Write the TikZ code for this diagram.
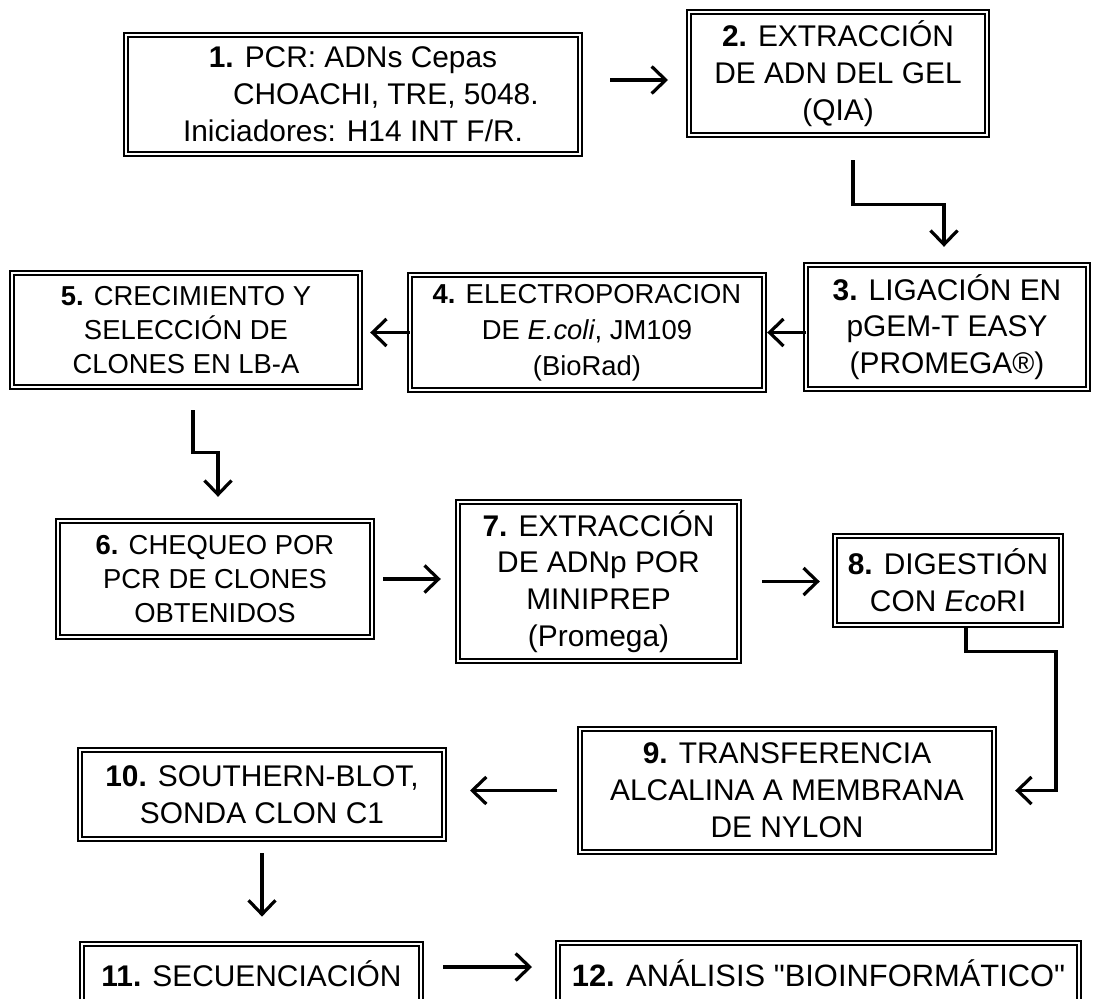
\documentclass[tikz,border=0pt]{standalone}
\usepackage{fontspec}
\setmainfont{Liberation Sans}
\usetikzlibrary{arrows.meta,calc}
\definecolor{ink}{HTML}{000000}
\newcommand{\boxfont}{\fontsize{30}{37}\selectfont}
\newcommand{\smallboxfont}{\fontsize{27.5}{36}\selectfont}
\newcommand{\tightboxfont}{\fontsize{27.5}{34}\selectfont}
\tikzset{
  every node/.style={font=\boxfont,text=ink,inner sep=0pt,outer sep=0pt},
  stepbox/.style={draw=ink,line width=1.7bp,double=white,double distance=2.4bp,align=center},
  flow/.style={draw=ink,line width=3.2bp,-{Straight Barb[length=14bp,width=27bp]}}
}

\begin{document}
\begin{tikzpicture}[x=1bp,y=-1bp]

\path[use as bounding box] (0,0) rectangle (1094,999);
\clip (0,0) rectangle (1094,999);
% Twelve steps, boxes read as a snake from top left.
\node[stepbox,minimum width=454.4bp,minimum height=119.4bp] (b1) at (353,94.5)
  {\textbf{1.} PCR: ADNs Cepas\\\hspace*{2.2em}CHOACHI, TRE, 5048.\\Iniciadores: H14 INT F/R.};
\node[stepbox,minimum width=298.4bp,minimum height=123.4bp] (b2) at (838,73.5)
  {\textbf{2.} EXTRACCIÓN\\DE ADN DEL GEL\\(QIA)};
\node[stepbox,minimum width=282.4bp,minimum height=124.4bp] (b3) at (947,327)
  {\textbf{3.} LIGACIÓN EN\\pGEM-T EASY\\(PROMEGA®)};
\node[stepbox,font=\smallboxfont,minimum width=354.4bp,minimum height=115.4bp] (b4) at (587,332.5)
  {\textbf{4.} ELECTROPORACION\\DE \textit{E.coli}, JM109\\(BioRad)};
\node[stepbox,font=\tightboxfont,minimum width=348.4bp,minimum height=114.4bp] (b5) at (186,330)
  {\textbf{5.} CRECIMIENTO Y\\SELECCIÓN DE\\CLONES EN LB-A};
\node[stepbox,font=\tightboxfont,minimum width=314.4bp,minimum height=116.4bp] (b6) at (215,579)
  {\textbf{6.} CHEQUEO POR\\PCR DE CLONES\\OBTENIDOS};
\node[stepbox,minimum width=281.4bp,minimum height=159.4bp] (b7) at (598.5,581.5)
  {\textbf{7.} EXTRACCIÓN\\DE ADNp POR\\MINIPREP\\(Promega)};
\node[stepbox,minimum width=226.4bp,minimum height=89.4bp] (b8) at (948,580.5)
  {\textbf{8.} DIGESTIÓN\\CON \textit{Eco}RI};
\node[stepbox,minimum width=414.4bp,minimum height=123.4bp] (b9) at (787,790.5)
  {\textbf{9.} TRANSFERENCIA\\ALCALINA A MEMBRANA\\DE NYLON};
\node[stepbox,minimum width=364.4bp,minimum height=89.4bp] (b10) at (262,794.5)
  {\textbf{10.} SOUTHERN-BLOT,\\SONDA CLON C1};
\node[stepbox,minimum width=339.4bp,minimum height=59.4bp] (b11) at (251.5,973.5)
  {\textbf{11.} SECUENCIACIÓN};
\node[stepbox,font=\fontsize{31}{37}\selectfont,minimum width=521.4bp,minimum height=60.4bp] (b12) at (818.5,973)
  {\textbf{12.} ANÁLISIS \textquotedbl BIOINFORMÁTICO\textquotedbl};

\draw[flow,shorten <=29.8bp,shorten >=20.8bp] ([yshift=-6.5bp]b2.west -| b1.east) -- ([yshift=-6.5bp]b2.west);
\draw[flow] ($(b2.south)+(15,25)$) |- ($(b3.north)+(-3,-60)$) -- ($(b3.north)+(-3,-18)$);
\draw[flow,shorten >=3bp] (b3.west |- b4.east) -- (b4.east);
\draw[flow,shorten >=10bp] (b4.west) -- (b4.west -| b5.east);
\draw[flow] ($(b5.south)+(7,23)$) |- ($(b6.north)+(3,-68)$) -- ($(b6.north)+(3,-24)$);
\draw[flow,shorten <=11bp,shorten >=17bp] (b6.east) -- (b6.east -| b7.west);
\draw[flow,shorten <=23bp,shorten >=15bp] (b7.east) -- (b7.east -| b8.west);
\draw[flow,shorten >=21bp] ($(b8.south)+(18,3)$) |- ($(b8.south)+(108,26)$) |- (b9.east);
\draw[flow,shorten <=22.8bp,shorten >=25.8bp] (b9.west) -- (b9.west -| b10.east);
\draw[flow,shorten <=13.8bp,shorten >=27.2bp] (b10.south) -- (b10.south |- b11.north);
\draw[flow,shorten <=21.8bp,shorten >=25.8bp] ([yshift=6.5bp]b11.east) -- ([yshift=6.5bp]b11.east -| b12.west);
\end{tikzpicture}
\end{document}
